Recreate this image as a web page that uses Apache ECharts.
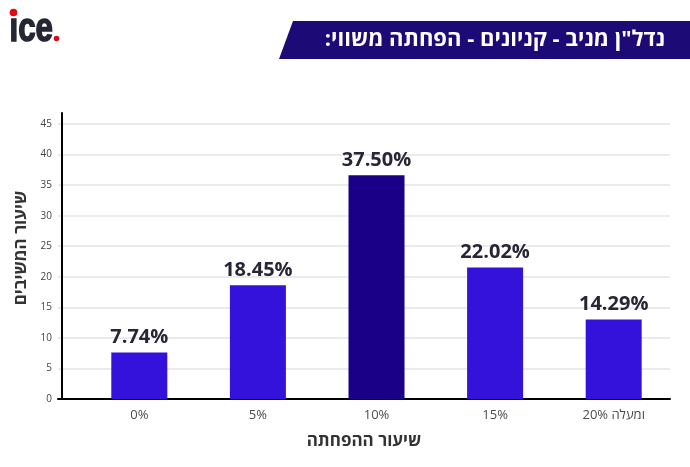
<!DOCTYPE html>
<html><head><meta charset="utf-8">
<script src="https://cdn.jsdelivr.net/npm/echarts@6/dist/echarts.min.js"></script>
<style>html,body{margin:0;padding:0;background:#fff}#c{width:690px;height:467px}</style>
</head><body><div id="c"></div>
<script>
const categories = ['0%', '5%', '10%', '15%', '20% ומעלה'];
const barValues = [7.6, 18.6, 36.6, 21.5, 13.0];
const valueLabels = ['7.74%', '18.45%', '37.50%', '22.02%', '14.29%'];
const highlightIndex = 2;
const yMin = 0, yMax = 45, yInterval = 5;
const titleText = ':נדל"ן מניב - קניונים - הפחתה משווי';
const xAxisName = 'שיעור ההפחתה';
const yAxisName = 'שיעור המשיבים';

const FONT = "'Open Sans', 'Noto Sans', 'DejaVu Sans', sans-serif";
const chart = echarts.init(document.getElementById('c'));
chart.setOption({
  animation: false,
  backgroundColor: '#fff',
  textStyle: { fontFamily: FONT },
  grid: [
    { left: 58, right: 20, top: 124, bottom: 68 },
    { left: 80, right: 17, top: 124, bottom: 68 },
    { left: 62, width: 1, top: 113, bottom: 68 }
  ],
  xAxis: [
    { gridIndex: 0, type: 'category', data: categories,
      axisLine: { lineStyle: { color: '#000', width: 2 } },
      axisTick: { show: false }, axisLabel: { show: false },
      name: xAxisName, nameLocation: 'middle', nameGap: 34,
      nameTextStyle: { fontSize: 17, fontWeight: 'bold', color: '#333', fontFamily: FONT } },
    { gridIndex: 1, type: 'category', data: categories,
      axisLine: { show: false }, axisTick: { show: false },
      axisLabel: { margin: 10, fontSize: 13, color: '#4a4a4a', fontFamily: FONT } },
    { gridIndex: 2, type: 'value', show: false }
  ],
  yAxis: [
    { gridIndex: 0, type: 'value', min: yMin, max: yMax, interval: yInterval,
      axisLine: { show: false }, axisTick: { show: false },
      axisLabel: { fontSize: 10, color: '#444', margin: 6, fontFamily: FONT },
      splitLine: { lineStyle: { color: '#ebebeb', width: 2 } } },
    { gridIndex: 1, type: 'value', min: yMin, max: yMax, interval: yInterval, show: false },
    { gridIndex: 2, type: 'value', min: 0, max: 1,
      axisLine: { show: true, lineStyle: { color: '#000', width: 2 } },
      axisTick: { show: false }, axisLabel: { show: false }, splitLine: { show: false },
      name: yAxisName, nameLocation: 'middle', nameGap: 32,
      nameTextStyle: { fontSize: 17, fontWeight: 'bold', color: '#333', fontFamily: FONT, padding: [0, 0, 0, 16] } }
  ],
  series: [{
    type: 'bar', xAxisIndex: 1, yAxisIndex: 1, barWidth: 56,
    data: barValues.map((v, i) => ({ value: v, itemStyle: { color: i === highlightIndex ? '#1a0087' : '#3412dc' } })),
    label: { show: true, position: 'top', distance: 5,
      formatter: p => valueLabels[p.dataIndex],
      fontSize: 20, fontWeight: 'bold', color: '#262636', fontFamily: FONT }
  }],
  graphic: [
    { type: 'polygon', shape: { points: [[293, 21], [690, 21], [690, 59], [279, 59]] }, style: { fill: '#1c0a76' } },
    { type: 'text', x: 665, y: 40, style: { text: titleText, fill: '#fff', font: "bold 22px " + FONT, align: 'right', verticalAlign: 'middle' } },
    { type: 'text', x: 9.5, y: 30, scaleX: 0.76, style: { text: 'ıce', fill: '#252533', stroke: '#252533', lineWidth: 1.6, font: "bold 41px 'Liberation Sans', Arial, sans-serif", align: 'left', verticalAlign: 'middle' } },
    { type: 'circle', shape: { cx: 13.5, cy: 12.5, r: 3.8 }, style: { fill: '#e30613' } },
    { type: 'circle', shape: { cx: 56.5, cy: 38.5, r: 2.8 }, style: { fill: '#e30613' } }
  ]
});
</script></body></html>
